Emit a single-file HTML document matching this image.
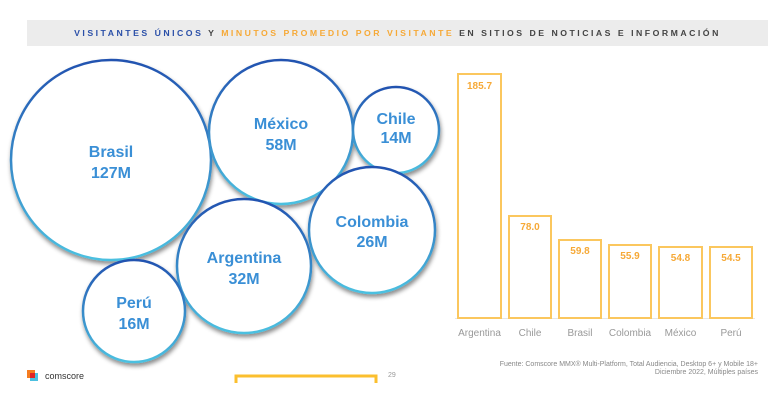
<!DOCTYPE html>
<html><head><meta charset="utf-8"><style>
body{margin:0;width:768px;height:414px;background:#fff;overflow:hidden;font-family:"Liberation Sans",sans-serif;position:relative}
</style></head><body>
<div style="position:absolute;left:27px;top:20px;width:741px;height:26px;background:#ececec"></div>
<div style="position:absolute;left:27px;top:20px;width:741px;height:26px;line-height:26px;text-align:center;font-size:8.7px;font-weight:bold;letter-spacing:2.5px;color:#444">
<span style="color:#2a4fa8">VISITANTES ÚNICOS</span> Y <span style="color:#f6a937">MINUTOS PROMEDIO POR VISITANTE</span> EN SITIOS DE NOTICIAS E INFORMACIÓN</div>
<svg width="768" height="414" style="position:absolute;left:0;top:0">
<defs>
<linearGradient id="g" x1="0" y1="0" x2="0" y2="1"><stop offset="0" stop-color="#2252b0"/><stop offset="1" stop-color="#4cc0e0"/></linearGradient>
<filter id="s" x="-20%" y="-20%" width="140%" height="140%"><feDropShadow dx="1" dy="3" stdDeviation="2" flood-color="#000" flood-opacity="0.45"/></filter>
</defs>
<g fill="#fff" stroke="url(#g)" stroke-width="2.5" filter="url(#s)">
<circle cx="111" cy="160" r="100"/>
<circle cx="281" cy="132" r="72"/>
<circle cx="396" cy="130" r="43"/>
<circle cx="372" cy="230" r="63"/>
<circle cx="244" cy="266" r="67"/>
<circle cx="134" cy="311" r="51"/>
</g>
<g font-family="Liberation Sans,sans-serif" font-weight="bold" fill="#3a8fd6" text-anchor="middle" font-size="16">
<text x="111" y="157">Brasil</text><text x="111" y="178">127M</text>
<text x="281" y="129">México</text><text x="281" y="150">58M</text>
<text x="396" y="124">Chile</text><text x="396" y="143">14M</text>
<text x="372" y="227">Colombia</text><text x="372" y="247">26M</text>
<text x="244" y="263">Argentina</text><text x="244" y="284">32M</text>
<text x="134" y="308">Perú</text><text x="134" y="329">16M</text>
</g>
<line x1="455" y1="318.5" x2="755" y2="318.5" stroke="#e6e6e6"/>
<g fill="none" stroke="#fbc75e" stroke-width="2">
<rect x="458" y="74" width="43" height="244"/>
<rect x="509" y="216" width="42" height="102"/>
<rect x="559" y="240" width="42" height="78"/>
<rect x="609" y="245" width="42" height="73"/>
<rect x="659" y="247" width="43" height="71"/>
<rect x="710" y="247" width="42" height="71"/>
</g>
<g font-family="Liberation Sans,sans-serif" font-weight="bold" fill="#f6a937" text-anchor="middle" font-size="10">
<text x="479.5" y="89">185.7</text><text x="530" y="230">78.0</text><text x="580" y="254">59.8</text>
<text x="630" y="259">55.9</text><text x="680.5" y="261">54.8</text><text x="731" y="261">54.5</text>
</g>
<g font-family="Liberation Sans,sans-serif" fill="#999" text-anchor="middle" font-size="10">
<text x="479.5" y="336">Argentina</text><text x="530" y="336">Chile</text><text x="580" y="336">Brasil</text>
<text x="630" y="336">Colombia</text><text x="680.5" y="336">México</text><text x="731" y="336">Perú</text>
</g>
<g font-family="Liberation Sans,sans-serif" fill="#888" text-anchor="end" font-size="7">
<text x="758" y="366">Fuente: Comscore MMX® Multi-Platform, Total Audiencia, Desktop 6+ y Mobile 18+</text>
<text x="758" y="374">Diciembre 2022, Múltiples países</text>
</g>
<text x="388" y="377" font-family="Liberation Sans,sans-serif" font-size="7" fill="#999">29</text>
<path d="M236 383 V376 H376 V383" fill="none" stroke="#fbbf2e" stroke-width="3"/>
<rect x="27" y="370" width="8" height="8" fill="#f57c20"/><rect x="30" y="373" width="8" height="8" fill="#4cc0e0"/><rect x="30" y="373" width="5" height="5" fill="#e02424"/>
<text x="45" y="379" font-family="Liberation Sans,sans-serif" font-size="9" fill="#333">comscore</text>
</svg>
</body></html>
